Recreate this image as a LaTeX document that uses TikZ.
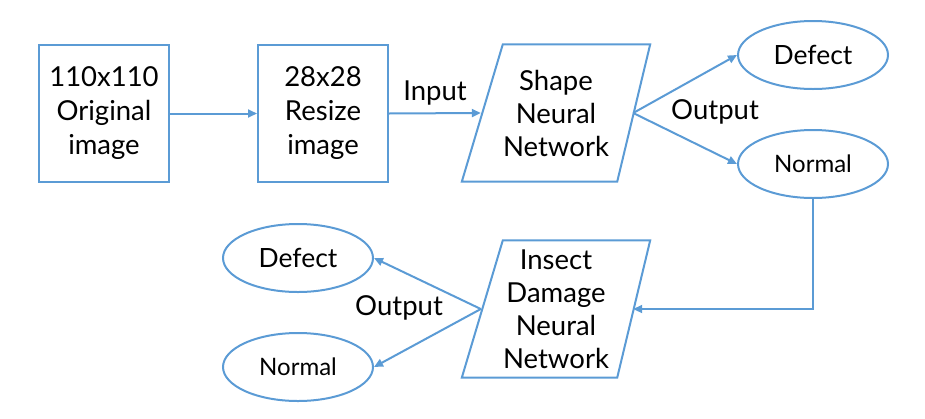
\documentclass[tikz,border=0pt]{standalone}
\usepackage{fontspec}
\setmainfont{Lato}
\usetikzlibrary{arrows.meta,shapes.geometric,calc}
\definecolor{lineblue}{HTML}{5B9BD5}
\tikzset{
  boxnode/.style={draw=lineblue, line width=2pt, minimum width=130pt, minimum height=137pt, align=center, inner sep=0pt, font=\fontsize{27.5}{34}\selectfont},
  paratext/.style={minimum width=188pt, minimum height=137pt, align=center, inner sep=0pt, font=\fontsize{27.5}{33}\selectfont},
  paraframe/.style={draw=lineblue, line width=2pt, line join=miter},
  ovalnode/.style={ellipse, draw=lineblue, line width=2pt, minimum width=150pt, minimum height=68pt, inner sep=0pt},
  bigtxt/.style={font=\fontsize{26.5}{30}\selectfont},
  smalltxt/.style={font=\fontsize{24}{28}\selectfont},
  conn/.style={draw=lineblue, line width=2pt, -{Triangle[length=9pt,width=8pt]}},
  lbl/.style={inner sep=0pt, font=\fontsize{27.5}{32}\selectfont}
}
\begin{document}
\begin{tikzpicture}[x=1pt,y=-1pt]
\useasboundingbox (0,0) rectangle (925,418);
% boxes
\node[boxnode] (b1) at (104,113.5) {110x110\\Original\\image};
\node[boxnode] (b2) at (323,113.5) {28x28\\Resize\\image};
% parallelogram 1
\node[paratext] (p1) at (556,113) {Shape\\Neural\\Network};
\draw[paraframe] ($(p1.north west)+(41,0)$) -- (p1.north east) -- ($(p1.south east)+(-33,0)$) -- (p1.south west) -- cycle;
\coordinate (p1in) at ($(p1.west)+(19,0)$);
\coordinate (p1out) at ($(p1.east)+(-17,0)$);
% ellipses top
\node[ovalnode, bigtxt] (d1) at (813,55) {Defect};
\node[ovalnode, smalltxt] (n1) at (813,164) {Normal};
% parallelogram 2
\node[paratext] (p2) at (556,309) {Insect\\Damage\\Neural\\Network};
\draw[paraframe] ($(p2.north west)+(41,0)$) -- (p2.north east) -- ($(p2.south east)+(-33,0)$) -- (p2.south west) -- cycle;
\coordinate (p2in) at ($(p2.east)+(-17,0)$);
\coordinate (p2out) at ($(p2.west)+(19,0)$);
% ellipses bottom
\node[ovalnode, bigtxt] (d2) at (298,258) {Defect};
\node[ovalnode, smalltxt] (n2) at (298,367) {Normal};
% connectors
\draw[conn] (b1.east) -- (b2.west);
\draw[conn] (b2.east) -- (p1in);
\draw[conn] (p1out) -- (d1.west);
\draw[conn] (p1out) -- (n1.west);
\draw[conn] (n1.south) |- (p2in);
\draw[conn] (p2out) -- (d2.east);
\draw[conn] (p2out) -- (n2.east);
% labels
\node[lbl] (linput) at (435,93) {Input};
\node[lbl] (lout1) at (715,112) {Output};
\node[lbl] (lout2) at (399,308) {Output};
\end{tikzpicture}
\end{document}
